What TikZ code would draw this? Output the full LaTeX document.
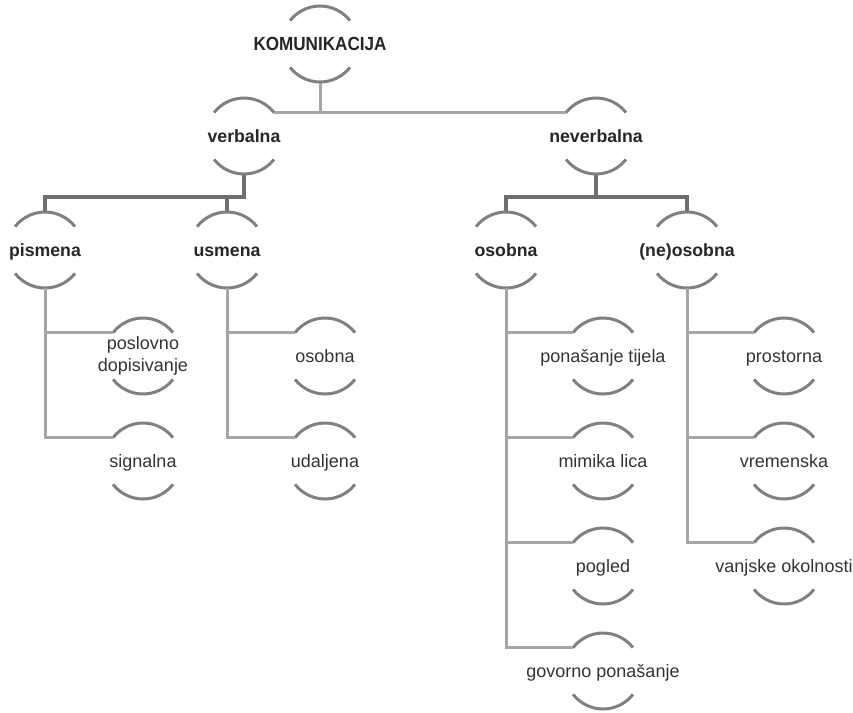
\documentclass[tikz,border=0pt]{standalone}
\usepackage{fontspec}
\setmainfont{Liberation Sans}
\newfontfamily\komfont{Liberation Sans}[FakeStretch=0.9]
\definecolor{arcgray}{HTML}{808080}
\definecolor{lightline}{HTML}{A6A6A6}
\definecolor{darkline}{HTML}{6E6E6E}
\definecolor{txtdark}{HTML}{262626}
\definecolor{txtleaf}{HTML}{333333}
\tikzset{
  arcline/.style={draw=arcgray, line width=3pt},
  topconn/.style={draw=lightline, line width=3pt},
  midconn/.style={draw=darkline, line width=4pt},
  leafconn/.style={draw=lightline, line width=3pt},
  komtxt/.style={font=\komfont\fontsize{19}{22}\selectfont\bfseries, text=txtdark, inner sep=0pt, text height=13.6pt, text depth=0pt},
  headtxt/.style={font=\fontsize{17.7}{21}\selectfont\bfseries, text=txtdark, inner sep=0pt, text height=12.7pt, text depth=0pt},
  leaftxt/.style={font=\fontsize{18}{22}\selectfont, text=txtleaf, inner sep=0pt, text height=12.9pt, text depth=0pt},
  twoline/.style={font=\fontsize{18}{22}\selectfont, text=txtleaf, inner sep=0pt, align=center},
}
\newcommand\circnode[5]{%
  \coordinate (#1) at (#2,#3);
  \node[#4] (#1-txt) at (#1) {#5};
  \coordinate (#1-tl) at ([shift={(142:38pt)}]#1);
  \coordinate (#1-tr) at ([shift={(38:38pt)}]#1);
  \coordinate (#1-t) at ([shift={(90:38pt)}]#1);
  \coordinate (#1-b) at ([shift={(270:38pt)}]#1);
  \draw[arcline] (#1-tl) arc[start angle=142,end angle=38,radius=38pt];
  \draw[arcline] ([shift={(218:38pt)}]#1) arc[start angle=218,end angle=322,radius=38pt];
}
\begin{document}
\begin{tikzpicture}[x=1pt,y=1pt]
\useasboundingbox (0,0) rectangle (853,-712);
% connectors first (arcs drawn on top)
\coordinate (kom) at (320,-44);
\coordinate (verbalna) at (244,-136);
\coordinate (neverbalna) at (596,-136);
\path (verbalna) ++(38:38pt) coordinate (verbalna-tr0);
\path (neverbalna) ++(142:38pt) coordinate (neverbalna-tl0);
\path (kom) ++(270:38pt) coordinate (kom-b0);
\draw[topconn] (verbalna-tr0) -- (neverbalna-tl0);
\draw[topconn] (kom-b0) -- (kom-b0 |- verbalna-tr0);

\coordinate (vbus) at (244,-197);
\coordinate (nbus) at (596,-197);
\draw[midconn] (244,-174) -- (vbus) -| (45,-212);
\draw[midconn] (227,-212) -- (227,-197);
\draw[midconn] (596,-174) -- (nbus) -| (506,-212);
\draw[midconn] (nbus) -| (687,-212);

% nodes
\circnode{kom}{320}{-44}{komtxt}{KOMUNIKACIJA}
\circnode{verbalna}{244}{-136}{headtxt}{verbalna}
\circnode{neverbalna}{596}{-136}{headtxt}{neverbalna}
\circnode{pismena}{45}{-250}{headtxt}{pismena}
\circnode{usmena}{227}{-250}{headtxt}{usmena}
\circnode{osobna}{506}{-250}{headtxt}{osobna}
\circnode{neosobna}{687}{-250}{headtxt}{(ne)osobna}

\circnode{poslovno}{143}{-356}{twoline}{poslovno\\dopisivanje}
\circnode{signalna}{143}{-461}{leaftxt}{signalna}
\circnode{osobnaleaf}{325}{-356}{leaftxt}{osobna}
\circnode{udaljena}{325}{-461}{leaftxt}{udaljena}
\circnode{ponasanje}{603}{-356}{leaftxt}{ponašanje tijela}
\circnode{mimika}{603}{-461}{leaftxt}{mimika lica}
\circnode{pogled}{603}{-566}{leaftxt}{pogled}
\circnode{govorno}{603}{-671}{leaftxt}{govorno ponašanje}
\circnode{prostorna}{784}{-356}{leaftxt}{prostorna}
\circnode{vremenska}{784}{-461}{leaftxt}{vremenska}
\circnode{vanjske}{784}{-566}{leaftxt}{vanjske okolnosti}

% leaf connectors
\draw[leafconn] (pismena-b) |- (signalna-tl);
\draw[leafconn] (pismena-b |- poslovno-tl) -- (poslovno-tl);
\draw[leafconn] (usmena-b) |- (udaljena-tl);
\draw[leafconn] (usmena-b |- osobnaleaf-tl) -- (osobnaleaf-tl);
\draw[leafconn] (osobna-b) |- (govorno-tl);
\draw[leafconn] (osobna-b |- ponasanje-tl) -- (ponasanje-tl);
\draw[leafconn] (osobna-b |- mimika-tl) -- (mimika-tl);
\draw[leafconn] (osobna-b |- pogled-tl) -- (pogled-tl);
\draw[leafconn] (neosobna-b) |- (vanjske-tl);
\draw[leafconn] (neosobna-b |- prostorna-tl) -- (prostorna-tl);
\draw[leafconn] (neosobna-b |- vremenska-tl) -- (vremenska-tl);
\end{tikzpicture}
\end{document}
